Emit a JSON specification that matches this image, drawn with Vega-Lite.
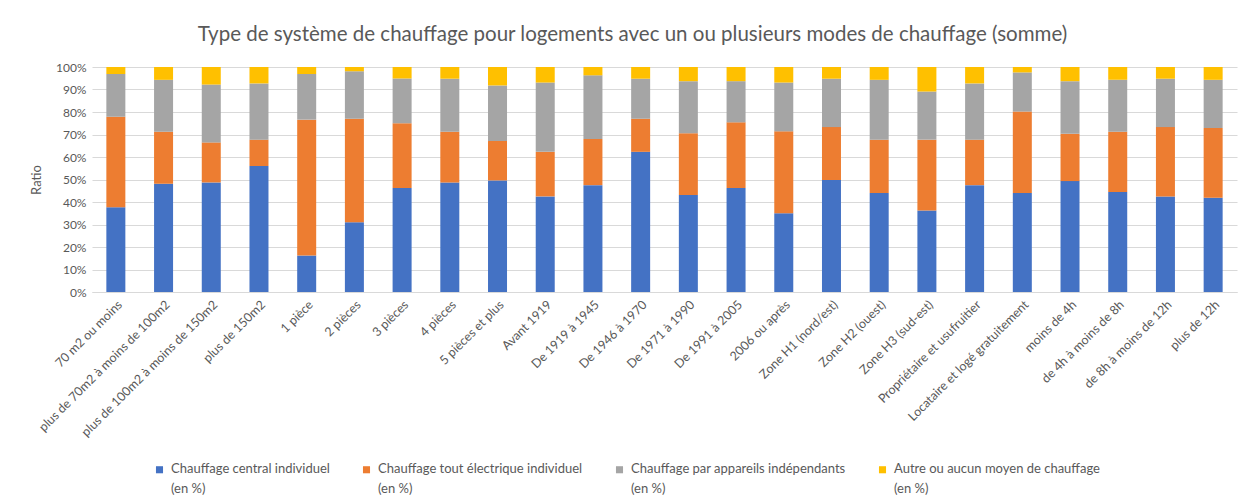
{
  "$schema": "https://vega.github.io/schema/vega-lite/v6.json",
  "autosize": {"type": "none"},
  "padding": {"left": 92, "top": 67, "right": 8, "bottom": 212},
  "width": 1145,
  "height": 225,
  "background": "white",
  "title": {
    "text": "Type de système de chauffage pour logements avec un ou plusieurs modes de chauffage (somme)",
    "anchor": "middle",
    "frame": "group",
    "dx": -32,
    "offset": 0,
    "baseline": "alphabetic",
    "font": "Lato",
    "fontSize": 20.5,
    "fontWeight": "normal",
    "color": "#595959"
  },
  "datasets": {
    "rows": [
      {"cat": "70 m2 ou moins", "b": 37.7, "o": 40.2, "g": 19.0, "y": 3.1},
      {"cat": "plus de 70m2 à moins de 100m2", "b": 48.1, "o": 23.1, "g": 23.1, "y": 5.7},
      {"cat": "plus de 100m2 à moins de 150m2", "b": 48.7, "o": 17.8, "g": 25.7, "y": 7.8},
      {"cat": "plus de 150m2", "b": 56.0, "o": 11.7, "g": 25.0, "y": 7.3},
      {"cat": "1 pièce", "b": 16.2, "o": 60.4, "g": 20.3, "y": 3.1},
      {"cat": "2 pièces", "b": 31.0, "o": 46.0, "g": 21.1, "y": 1.9},
      {"cat": "3 pièces", "b": 46.2, "o": 28.8, "g": 19.9, "y": 5.1},
      {"cat": "4 pièces", "b": 48.7, "o": 22.5, "g": 23.6, "y": 5.2},
      {"cat": "5 pièces et plus", "b": 49.6, "o": 17.5, "g": 24.7, "y": 8.2},
      {"cat": "Avant 1919", "b": 42.5, "o": 19.8, "g": 30.8, "y": 6.9},
      {"cat": "De 1919 à 1945", "b": 47.5, "o": 20.5, "g": 28.3, "y": 3.7},
      {"cat": "De 1946 à 1970", "b": 62.3, "o": 14.7, "g": 17.8, "y": 5.2},
      {"cat": "De 1971 à 1990", "b": 43.1, "o": 27.5, "g": 23.1, "y": 6.3},
      {"cat": "De 1991 à 2005", "b": 46.2, "o": 29.2, "g": 18.3, "y": 6.3},
      {"cat": "2006 ou après", "b": 35.0, "o": 36.4, "g": 21.7, "y": 6.9},
      {"cat": "Zone H1 (nord/est)", "b": 49.8, "o": 23.5, "g": 21.5, "y": 5.2},
      {"cat": "Zone H2 (ouest)", "b": 44.0, "o": 23.7, "g": 26.6, "y": 5.7},
      {"cat": "Zone H3 (sud-est)", "b": 36.2, "o": 31.5, "g": 21.4, "y": 10.9},
      {"cat": "Propriétaire et usufruitier", "b": 47.5, "o": 20.2, "g": 25.0, "y": 7.3},
      {"cat": "Locataire et logé gratuitement", "b": 44.0, "o": 36.2, "g": 17.4, "y": 2.4},
      {"cat": "moins de 4h", "b": 49.3, "o": 21.0, "g": 23.4, "y": 6.3},
      {"cat": "de 4h à moins de 8h", "b": 44.4, "o": 26.8, "g": 23.1, "y": 5.7},
      {"cat": "de 8h à moins de 12h", "b": 42.5, "o": 30.8, "g": 21.5, "y": 5.2},
      {"cat": "plus de 12h", "b": 41.9, "o": 31.0, "g": 21.4, "y": 5.7}
    ]
  },
  "data": {"name": "rows"},
  "transform": [
    {"fold": ["b", "o", "g", "y"], "as": ["key", "v"]},
    {"lookup": "key", "from": {"data": {"values": [
      {"key": "b", "k": 1, "serie": "Chauffage central individuel"},
      {"key": "o", "k": 2, "serie": "Chauffage tout électrique individuel"},
      {"key": "g", "k": 3, "serie": "Chauffage par appareils indépendants"},
      {"key": "y", "k": 4, "serie": "Autre ou aucun moyen de chauffage"}
    ]}, "key": "key", "fields": ["k", "serie"]}}
  ],
  "mark": {"type": "bar", "width": 19},
  "encoding": {
    "x": {
      "field": "cat", "type": "nominal", "sort": null,
      "axis": {
        "title": null, "labelAngle": -45, "labelFont": "Lato", "labelFontSize": 12.5,
        "labelColor": "#595959", "ticks": false, "domainColor": "#d9d9d9",
        "labelPadding": 6, "labelLimit": 300, "grid": false
      }
    },
    "y": {
      "field": "v", "type": "quantitative", "stack": "normalize",
      "scale": {"domain": [0, 1]},
      "axis": {
        "title": "Ratio", "titleFont": "Lato", "titleFontSize": 13, "titleFontWeight": "normal",
        "titleColor": "#595959", "titlePadding": 12,
        "format": ".0%", "values": [0, 0.1, 0.2, 0.3, 0.4, 0.5, 0.6, 0.7, 0.8, 0.9, 1],
        "labelFont": "Lato", "labelFontSize": 12, "labelColor": "#595959",
        "ticks": false, "domain": false, "gridColor": "#d9d9d9", "labelPadding": 6
      }
    },
    "color": {
      "field": "serie", "type": "nominal",
      "scale": {
        "domain": ["Chauffage central individuel", "Chauffage tout électrique individuel", "Chauffage par appareils indépendants", "Autre ou aucun moyen de chauffage"],
        "range": ["#4472C4", "#ED7D31", "#A5A5A5", "#FFC000"]
      },
      "legend": {
        "title": null, "orient": "none", "legendX": 61, "legendY": 396,
        "direction": "horizontal", "columns": 4, "columnPadding": 30,
        "symbolType": "square", "symbolSize": 50, "symbolStrokeWidth": 0,
        "labelFont": "Lato", "labelFontSize": 13, "labelColor": "#595959",
        "labelExpr": "[datum.label, '(en %)']", "labelLimit": 400, "labelOffset": 5,
        "labelBaseline": "top",
        "encode": {"labels": {"update": {"lineHeight": {"value": 20}, "dy": {"value": -7}}}}
      }
    },
    "order": {"field": "k", "type": "quantitative"}
  },
  "config": {"view": {"stroke": null}}
}
